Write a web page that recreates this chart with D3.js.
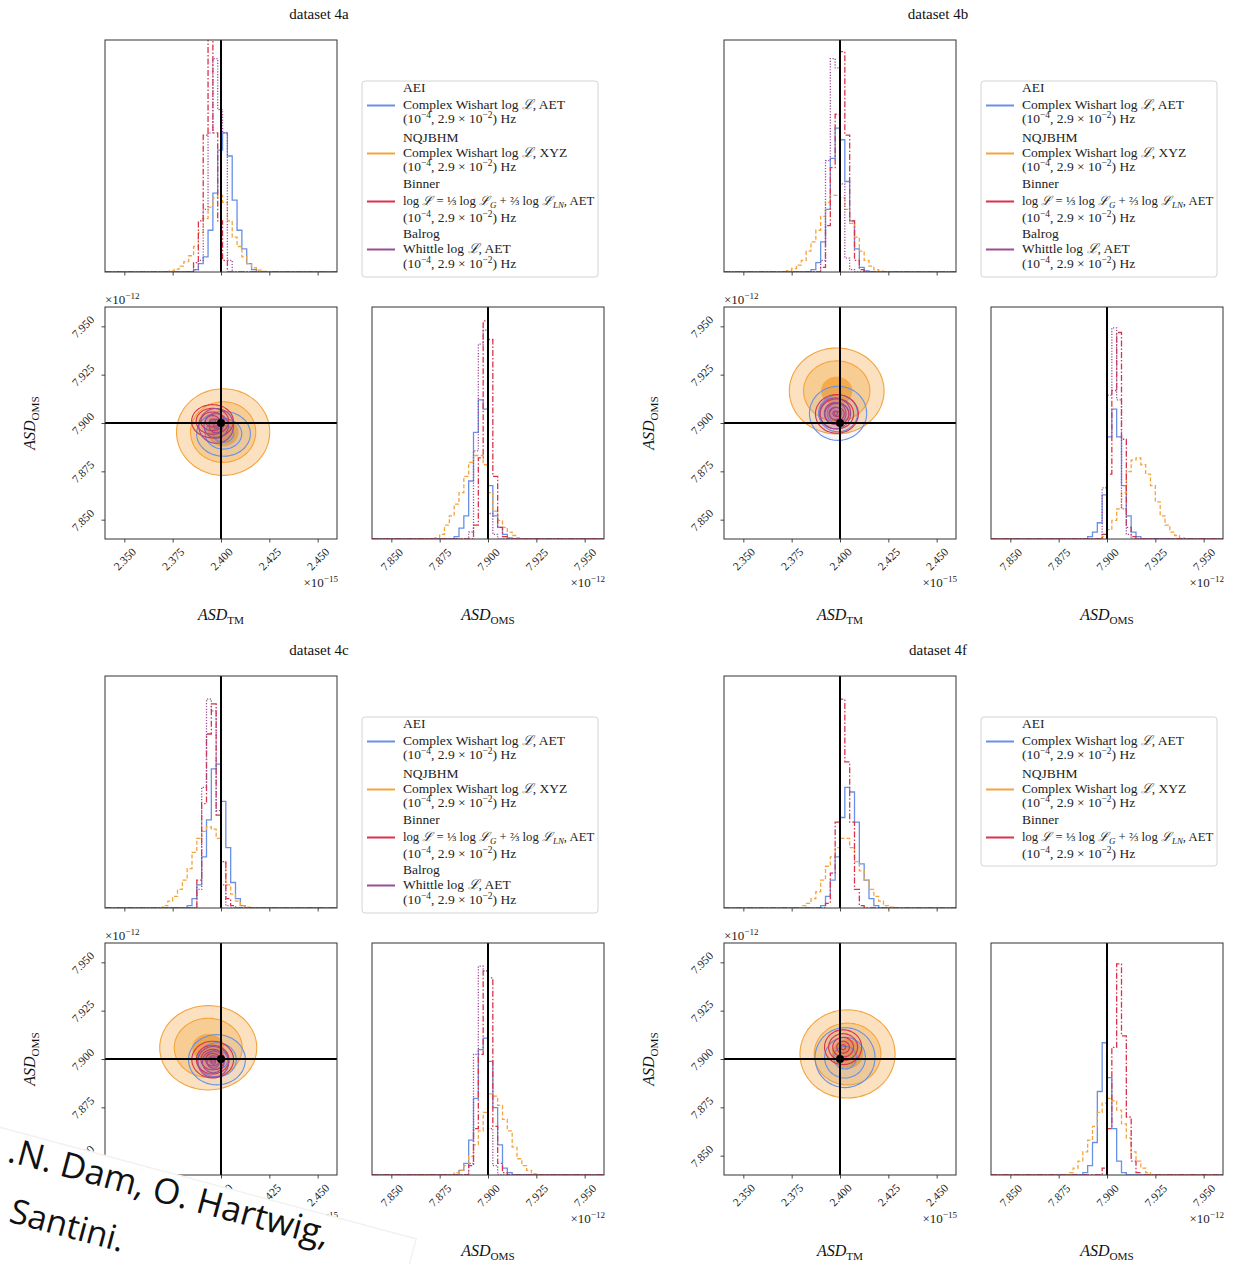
<!DOCTYPE html>
<html><head><meta charset="utf-8">
<script src="https://cdn.jsdelivr.net/npm/d3@7"></script>
<style>body{margin:0;background:#fff}svg{display:block}</style>
</head><body>
<svg id="c" width="1240" height="1264"></svg>
<script>
// ---------------- DATA ----------------
const datasetTitles = ["dataset 4a", "dataset 4b", "dataset 4c", "dataset 4f"];
const pipelineNames = ["AEI", "NQJBHM", "Binner", "Balrog"];
const pipelineLik = [
  [{t:"Complex Wishart log "},{t:"ℒ",i:1},{t:", AET"}],
  [{t:"Complex Wishart log "},{t:"ℒ",i:1},{t:", XYZ"}],
  [{t:"log "},{t:"ℒ",i:1},{t:" = ⅓ log "},{t:"ℒ",i:1},{t:"G",sub:1,i:1},{t:" + ⅔ log "},{t:"ℒ",i:1},{t:"LN",sub:1,i:1},{t:", AET"}],
  [{t:"Whittle log "},{t:"ℒ",i:1},{t:", AET"}]
];
const freqBand = [{t:"(10"},{t:"−4",sup:1},{t:", 2.9 × 10"},{t:"−2",sup:1},{t:") Hz"}];
const tmDomain = [2.34, 2.46];
const omsDomain = [7.84, 7.96];
const tmTicks = [2.350, 2.375, 2.400, 2.425, 2.450];
const omsTicks = [7.850, 7.875, 7.900, 7.925, 7.950];
const tmTrue = 2.400, omsTrue = 7.900;
const binW = 0.0025;

// histograms: [first bin edge, heights (fraction of panel)] per pipeline AEI, NQJBHM, Binner, Balrog
const tmHist4a = [
  [2.3858, [0.01,0.036,0.065,0.18,0.34,0.525,0.6,0.5,0.31,0.18,0.1,0.036,0.01]],
  [2.3733, [0.005,0.012,0.025,0.045,0.07,0.11,0.17,0.23,0.28,0.32,0.33,0.30,0.22,0.15,0.11,0.065,0.036,0.018,0.008,0.003]],
  [2.3858, [0.04,0.22,0.59,1.15,0.6,0.22,0.05]],
  [2.3858, [0.01,0.05,0.27,0.6,0.92,0.7,0.6,0.05]]
];
const omsHist4a = [
  [7.8825, [0.01,0.047,0.1,0.25,0.46,0.6,0.56,0.23,0.1,0.05,0.02,0.005]],
  [7.8725, [0.005,0.02,0.06,0.1,0.15,0.2,0.27,0.33,0.36,0.36,0.32,0.2,0.12,0.08,0.05,0.03,0.015,0.005]],
  [7.8925, [0.06,0.35,0.94,0.86,0.27,0.05,0.01]],
  [7.89,   [0.03,0.38,0.84,0.9,0.11,0.02]]
];
const tmHist4b = [
  [2.385,  [0.01,0.04,0.13,0.27,0.49,0.62,0.57,0.39,0.22,0.1,0.02,0.005]],
  [2.3725, [0.006,0.015,0.03,0.05,0.09,0.13,0.18,0.24,0.3,0.33,0.33,0.32,0.27,0.21,0.15,0.09,0.05,0.025,0.01,0.004]],
  [2.39,   [0.02,0.2,0.45,0.68,0.95,0.59,0.22,0.05,0.01]],
  [2.39,   [0.05,0.48,0.92,0.88,0.38,0.06,0.01]]
];
const omsHist4b = [
  [7.89,   [0.01,0.03,0.07,0.19,0.44,0.56,0.44,0.23,0.1,0.03,0.01]],
  [7.8975, [0.01,0.04,0.08,0.13,0.2,0.29,0.34,0.35,0.32,0.28,0.23,0.16,0.1,0.06,0.03,0.015,0.005]],
  [7.8975, [0.02,0.28,0.64,0.89,0.43,0.05,0.01]],
  [7.8975, [0.22,0.62,0.91,0.6,0.13,0.02]]
];
const tmHist4c = [
  [2.3825, [0.01,0.04,0.1,0.22,0.38,0.6,0.62,0.46,0.26,0.11,0.04,0.01]],
  [2.37,   [0.01,0.03,0.05,0.08,0.12,0.17,0.24,0.3,0.33,0.35,0.34,0.3,0.2,0.1,0.06,0.03,0.01,0.004]],
  [2.3875, [0.12,0.45,0.75,0.88,0.4,0.2,0.04,0.01]],
  [2.3875, [0.08,0.52,0.9,0.85,0.42,0.1,0.01]]
];
const omsHist4c = [
  [7.885,  [0.02,0.05,0.15,0.33,0.54,0.59,0.49,0.29,0.13,0.03,0.01]],
  [7.8825, [0.01,0.02,0.04,0.08,0.13,0.19,0.27,0.35,0.34,0.3,0.24,0.19,0.12,0.07,0.04,0.02,0.005]],
  [7.89,   [0.04,0.2,0.52,0.88,0.85,0.21,0.05,0.01]],
  [7.89,   [0.05,0.52,0.9,0.88,0.2,0.04]]
];
const tmHist4f = [
  [2.39,   [0.01,0.05,0.12,0.22,0.39,0.52,0.5,0.37,0.19,0.12,0.04,0.01]],
  [2.38,   [0.01,0.02,0.04,0.07,0.12,0.18,0.22,0.26,0.3,0.3,0.26,0.2,0.16,0.12,0.08,0.05,0.03,0.01,0.004]],
  [2.3925, [0.02,0.15,0.37,0.9,0.63,0.37,0.08,0.01]],
  null
];
const omsHist4f = [
  [7.8875, [0.01,0.04,0.14,0.36,0.57,0.42,0.2,0.06,0.01]],
  [7.88,   [0.01,0.03,0.06,0.1,0.15,0.21,0.27,0.31,0.33,0.32,0.28,0.22,0.16,0.1,0.06,0.03,0.01]],
  [7.8975, [0.03,0.2,0.55,0.91,0.6,0.25,0.06,0.01]],
  null
];
// 2D posteriors: [centre TM, centre OMS, outer-contour half-width TM, half-height OMS]
const contour4a = [[2.4013,7.8944,0.0139,0.0116],[2.4011,7.8953,0.0241,0.0224],[2.3956,7.9009,0.0108,0.0086],[2.3975,7.8985,0.009,0.009]];
const contour4b = [[2.3990,7.9050,0.0148,0.0140],[2.3983,7.9166,0.0245,0.0222],[2.3984,7.9047,0.0111,0.0100],[2.3975,7.9050,0.008,0.008]];
const contour4c = [[2.3979,7.8996,0.0147,0.0130],[2.3934,7.9058,0.0251,0.0218],[2.3957,7.8997,0.0108,0.0095],[2.3960,7.8985,0.008,0.008]];
const contour4f = [[2.4026,7.9007,0.0155,0.0155],[2.4039,7.9026,0.0246,0.0228],[2.4016,7.9061,0.0096,0.0090],null];
const contourLevels = [[1,0.68,0.38],[1,0.7,0.33],[1,0.78,0.56,0.34,0.14],[1,0.7,0.4,0.15]];

const tmHists = [tmHist4a, tmHist4b, tmHist4c, tmHist4f];
const omsHists = [omsHist4a, omsHist4b, omsHist4c, omsHist4f];
const contours = [contour4a, contour4b, contour4c, contour4f];

// ---------------- STYLE ----------------
const serif = "'Liberation Serif','DejaVu Serif',serif";
const colors = ["#6890e6", "#f4a43c", "#d9334b", "#9a4c98"];
const dashes = [null, "4,2.2", "6,2,1.5,2", "1.2,1.6"];
const fillOp = [0.07, 0, 0.05, 0.12];
const S = 232;
const quad = [[0,0],[619,0],[0,636],[619,636]];
const tickFont = 11.5, multFont = 13;

const svg = d3.select("#c");
svg.append("rect").attr("width",1240).attr("height",1264).attr("fill","#fff");
const defs = svg.append("defs");

function richText(sel, segs, size){
  let shift = 0;
  segs.forEach(s => {
    const ts = sel.append("tspan").text(s.t);
    const target = s.sup ? -0.4*size : (s.sub ? 0.25*size : 0);
    if (target !== shift) ts.attr("dy", target - shift);
    shift = target;
    if (s.sup || s.sub) ts.attr("font-size", size*0.7);
    if (s.i) ts.attr("font-style","italic");
  });
  return sel;
}

function stepPts(start, h, dom){
  const pts = [[dom[0],0],[start,0]];
  h.forEach((v,i)=>{ pts.push([start+i*binW, v]); pts.push([start+(i+1)*binW, v]); });
  pts.push([start+h.length*binW,0]); pts.push([dom[1],0]);
  return pts;
}

function styleTicks(a){
  a.select(".domain").remove();
  a.selectAll("line").attr("stroke","#333").attr("stroke-width",0.9);
  a.attr("font-family",serif).attr("font-size",tickFont);
}

const angles = d3.range(0,72).map(i=>i/72*2*Math.PI);

datasetTitles.forEach((title, d) => {
  const [qx,qy] = quad[d];
  const g = svg.append("g").attr("transform",`translate(${qx},${qy})`);
  const hx=105, hy=40, cx=105, cy=307, mx=372, my=307;

  g.append("text").attr("x",319).attr("y",19).attr("text-anchor","middle")
    .attr("font-family",serif).attr("font-size",15).attr("fill","#111").text(title);

  [["h",hx,hy],["c",cx,cy],["m",mx,my]].forEach(([k,x,y])=>{
    defs.append("clipPath").attr("id",`cl${k}${d}`).append("rect")
      .attr("x",x).attr("y",y).attr("width",S).attr("height",S);
  });

  // ---- TM histogram ----
  const xH = d3.scaleLinear().domain(tmDomain).range([hx,hx+S]);
  const yH = d3.scaleLinear().domain([0,1]).range([hy+S,hy]);
  const hg = g.append("g").attr("clip-path",`url(#clh${d})`);
  tmHists[d].forEach((h,i)=>{
    if(!h) return;
    hg.append("path").attr("d", d3.line().x(p=>xH(p[0])).y(p=>yH(p[1]))(stepPts(h[0],h[1],tmDomain)))
      .attr("fill","none").attr("stroke",colors[i]).attr("stroke-width",1.3)
      .attr("stroke-dasharray",dashes[i]);
  });
  hg.append("line").attr("x1",xH(tmTrue)).attr("x2",xH(tmTrue)).attr("y1",hy).attr("y2",hy+S)
    .attr("stroke","#000").attr("stroke-width",2);
  styleTicks(g.append("g").attr("transform",`translate(0,${hy+S})`)
    .call(d3.axisBottom(xH).tickValues(tmTicks).tickSize(3.5).tickFormat("")));
  g.append("rect").attr("x",hx).attr("y",hy).attr("width",S).attr("height",S)
    .attr("fill","none").attr("stroke","#333").attr("stroke-width",1);

  // ---- 2D panel ----
  const xC = d3.scaleLinear().domain(tmDomain).range([cx,cx+S]);
  const yC = d3.scaleLinear().domain(omsDomain).range([cy+S,cy]);
  const cg = g.append("g").attr("clip-path",`url(#clc${d})`);
  const ell = (c,k) => d3.line().curve(d3.curveCardinalClosed)(
    angles.map(a=>[xC(c[0]+k*c[2]*Math.cos(a)), yC(c[1]+k*c[3]*Math.sin(a))]));
  const cs = contours[d];
  contourLevels[1].forEach((k,j)=>{
    cg.append("path").attr("d", ell(cs[1],k))
      .attr("fill", colors[1]).attr("fill-opacity", j===2 ? 0.85 : 0.33)
      .attr("stroke", j<2 ? colors[1] : "none").attr("stroke-width",1.1);
  });
  [0,2,3].forEach(i=>{
    const c = cs[i]; if(!c) return;
    contourLevels[i].forEach(k=>{
      cg.append("path").attr("d", ell(c,k))
        .attr("fill", colors[i]).attr("fill-opacity", fillOp[i])
        .attr("stroke", colors[i]).attr("stroke-width",1.1);
    });
  });
  cg.append("line").attr("x1",xC(tmTrue)).attr("x2",xC(tmTrue)).attr("y1",cy).attr("y2",cy+S)
    .attr("stroke","#000").attr("stroke-width",2);
  cg.append("line").attr("x1",cx).attr("x2",cx+S).attr("y1",yC(omsTrue)).attr("y2",yC(omsTrue))
    .attr("stroke","#000").attr("stroke-width",2);
  cg.append("circle").attr("cx",xC(tmTrue)).attr("cy",yC(omsTrue)).attr("r",4).attr("fill","#000");
  const ax2 = g.append("g").attr("transform",`translate(0,${cy+S})`)
    .call(d3.axisBottom(xC).tickValues(tmTicks).tickSize(3.5).tickFormat(d3.format(".3f")));
  styleTicks(ax2);
  ax2.selectAll("text").attr("y",null).attr("dy",null).attr("fill","#222")
    .attr("transform","translate(0,20) rotate(-45)").attr("text-anchor","middle")
    .attr("dominant-baseline","central");
  const ay2 = g.append("g").attr("transform",`translate(${cx},0)`)
    .call(d3.axisLeft(yC).tickValues(omsTicks).tickSize(3.5).tickFormat(d3.format(".3f")));
  styleTicks(ay2);
  ay2.selectAll("text").attr("x",null).attr("dy",null).attr("fill","#222")
    .attr("transform","translate(-22,0) rotate(-45)").attr("text-anchor","middle")
    .attr("dominant-baseline","central");
  g.append("rect").attr("x",cx).attr("y",cy).attr("width",S).attr("height",S)
    .attr("fill","none").attr("stroke","#333").attr("stroke-width",1);
  richText(g.append("text").attr("x",cx+S+1).attr("y",cy+S+48).attr("text-anchor","end")
    .attr("font-family",serif).attr("font-size",multFont).attr("fill","#222"),
    [{t:"×10"},{t:"−15",sup:1}], multFont);
  richText(g.append("text").attr("x",cx).attr("y",cy-3)
    .attr("font-family",serif).attr("font-size",multFont).attr("fill","#222"),
    [{t:"×10"},{t:"−12",sup:1}], multFont);
  richText(g.append("text").attr("x",cx+S/2).attr("y",620).attr("text-anchor","middle")
    .attr("font-family",serif).attr("font-size",16).attr("fill","#111"),
    [{t:"ASD",i:1},{t:"TM",sub:1}], 16);
  richText(g.append("text").attr("transform",`translate(35,${cy+S/2}) rotate(-90)`).attr("text-anchor","middle")
    .attr("font-family",serif).attr("font-size",16).attr("fill","#111"),
    [{t:"ASD",i:1},{t:"OMS",sub:1}], 16);

  // ---- OMS histogram ----
  const xM = d3.scaleLinear().domain(omsDomain).range([mx,mx+S]);
  const yM = d3.scaleLinear().domain([0,1]).range([my+S,my]);
  const mg = g.append("g").attr("clip-path",`url(#clm${d})`);
  omsHists[d].forEach((h,i)=>{
    if(!h) return;
    mg.append("path").attr("d", d3.line().x(p=>xM(p[0])).y(p=>yM(p[1]))(stepPts(h[0],h[1],omsDomain)))
      .attr("fill","none").attr("stroke",colors[i]).attr("stroke-width",1.3)
      .attr("stroke-dasharray",dashes[i]);
  });
  mg.append("line").attr("x1",xM(omsTrue)).attr("x2",xM(omsTrue)).attr("y1",my).attr("y2",my+S)
    .attr("stroke","#000").attr("stroke-width",2);
  const axm = g.append("g").attr("transform",`translate(0,${my+S})`)
    .call(d3.axisBottom(xM).tickValues(omsTicks).tickSize(3.5).tickFormat(d3.format(".3f")));
  styleTicks(axm);
  axm.selectAll("text").attr("y",null).attr("dy",null).attr("fill","#222")
    .attr("transform","translate(0,20.5) rotate(-45)").attr("text-anchor","middle")
    .attr("dominant-baseline","central");
  g.append("rect").attr("x",mx).attr("y",my).attr("width",S).attr("height",S)
    .attr("fill","none").attr("stroke","#333").attr("stroke-width",1);
  richText(g.append("text").attr("x",mx+S+1).attr("y",my+S+48).attr("text-anchor","end")
    .attr("font-family",serif).attr("font-size",multFont).attr("fill","#222"),
    [{t:"×10"},{t:"−12",sup:1}], multFont);
  richText(g.append("text").attr("x",mx+S/2).attr("y",620).attr("text-anchor","middle")
    .attr("font-family",serif).attr("font-size",16).attr("fill","#111"),
    [{t:"ASD",i:1},{t:"OMS",sub:1}], 16);

  // ---- legend ----
  const present = pipelineNames.map((n,i)=>tmHists[d][i] ? i : -1).filter(i=>i>=0);
  const lg = g.append("g").attr("transform","translate(362,81)");
  const rowBase = [[11,28,42],[61,76,90],[107,124,141],[157,172,187]];
  lg.append("rect").attr("width",236).attr("height", present.length===4 ? 196 : 149)
    .attr("rx",3).attr("fill","#fff").attr("stroke","#d4d4d4").attr("stroke-width",1);
  present.forEach((i,r)=>{
    const rb = rowBase[r];
    lg.append("line").attr("x1",5).attr("x2",33).attr("y1",rb[1]-3.5).attr("y2",rb[1]-3.5)
      .attr("stroke",colors[i]).attr("stroke-width",2);
    const tx = (y,fs)=>lg.append("text").attr("x",41).attr("y",y)
      .attr("font-family",serif).attr("font-size",fs).attr("fill","#222");
    tx(rb[0],13.5).text(pipelineNames[i]);
    const fs2 = i === 2 ? 12.7 : 13.5;
    richText(tx(rb[1],fs2), pipelineLik[i], fs2);
    richText(tx(rb[2],13.5), freqBand, 13.5);
  });
});

// ---- overlay strip (pasted slide fragment) ----
const band = svg.append("g").attr("transform","translate(17,1164) rotate(15)");
band.append("rect").attr("x",-140).attr("y",-31).attr("width",545).attr("height",260)
  .attr("fill","#fff").attr("stroke","#f2f2f2").attr("stroke-width",1.5);
band.append("text").attr("x",-11).attr("y",0).attr("font-family","'Open Sans',sans-serif")
  .attr("font-size",35).attr("fill","#111").text(".N. Dam, O. Hartwig,");
band.append("text").attr("x",6).attr("y",58).attr("font-family","'Open Sans',sans-serif")
  .attr("font-size",34).attr("fill","#111").text("Santini.");
</script>
</body></html>
